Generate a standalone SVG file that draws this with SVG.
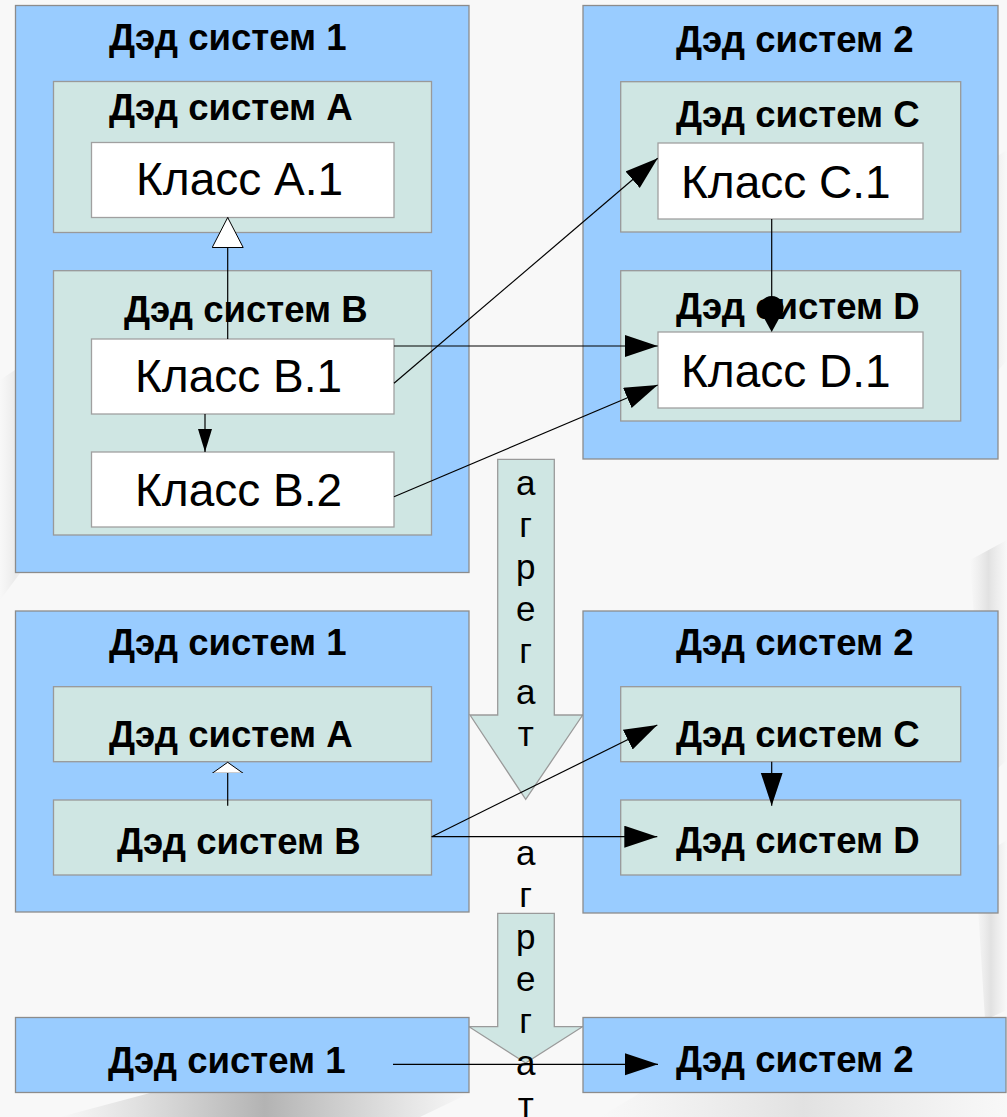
<svg xmlns="http://www.w3.org/2000/svg" width="1007" height="1117" viewBox="0 0 1007 1117">
  <style>
    .sys { fill: #99ccff; stroke: #8c8c8c; stroke-width: 1.3; }
    .sub { fill: #cfe6e3; stroke: #999999; stroke-width: 1.3; }
    .cls { fill: #ffffff; stroke: #a0a0a0; stroke-width: 1.3; }
    .big { fill: #cfe6e3; stroke: #9a9a9a; stroke-width: 1.3; }
    .title { font-family: "Liberation Sans", Arial, sans-serif; font-weight: bold; font-size: 36.6px; fill: #000; }
    .name { font-family: "Liberation Sans", Arial, sans-serif; font-size: 46px; fill: #000; }
    .vert { font-family: "Liberation Sans", Arial, sans-serif; font-size: 35px; fill: #000; text-anchor: middle; }
    .link { stroke: #000; stroke-width: 1.2; fill: none; }
  </style>
  <defs>
    <marker id="head" markerUnits="userSpaceOnUse" markerWidth="34" markerHeight="24" refX="33" refY="11" orient="auto">
      <path d="M0,0 L33,11 L0,22 Z" fill="#000"/>
    </marker>
    <marker id="headSmall" markerUnits="userSpaceOnUse" markerWidth="24" markerHeight="16" refX="23" refY="7" orient="auto">
      <path d="M0,0 L23,7 L0,14 Z" fill="#000"/>
    </marker>
    <marker id="hollow" markerUnits="userSpaceOnUse" markerWidth="33" markerHeight="33" refX="30" refY="15.5" orient="auto">
      <path d="M0,0 L30,15.5 L0,31 Z" fill="#fff" stroke="#000" stroke-width="1"/>
    </marker>
    <marker id="hollowFlat" markerUnits="userSpaceOnUse" markerWidth="14" markerHeight="33" refX="11" refY="15.5" orient="auto">
      <path d="M0,0 L11,15.5 L0,31 Z" fill="#fff" stroke="#000" stroke-width="1"/>
    </marker>
    <linearGradient id="streak" x1="0" y1="0" x2="1" y2="0">
      <stop offset="0" stop-color="#d8d8d8" stop-opacity="0"/>
      <stop offset="0.5" stop-color="#cfcfcf" stop-opacity="0.55"/>
      <stop offset="1" stop-color="#d8d8d8" stop-opacity="0"/>
    </linearGradient>
    <linearGradient id="streakDark" x1="0" y1="0" x2="1" y2="0">
      <stop offset="0" stop-color="#a8a8a8" stop-opacity="0"/>
      <stop offset="0.5" stop-color="#9c9c9c" stop-opacity="0.75"/>
      <stop offset="1" stop-color="#a8a8a8" stop-opacity="0"/>
    </linearGradient>
  </defs>

  <!-- brushed light background -->
  <g id="background">
    <rect width="1007" height="1117" fill="#f8f8f8"/>
    <polygon points="960,180 1007,150 1007,360 990,380" fill="url(#streak)"/>
    <polygon points="970,560 1007,540 1007,760 985,780" fill="url(#streak)"/>
    <polygon points="975,860 1007,840 1007,1010 985,1020" fill="url(#streak)"/>
    <polygon points="0,380 30,360 30,560 0,600" fill="url(#streak)" opacity="0.6"/>
    <polygon points="60,1117 150,1093 470,1093 420,1117" fill="url(#streakDark)"/>
    <polygon points="600,1117 640,1093 1007,1093 1007,1117" fill="url(#streak)"/>
  </g>

  <!-- aggregation arrows between the levels -->
  <g id="aggregate-1">
    <path class="big" d="M497.7,459.3 H554.3 V715 H582.7 L525.7,799.3 L470,715 H497.7 Z"/>
  </g>
  <g id="aggregate-2">
    <path class="big" d="M497.7,913.3 H554.3 V1026.7 H582.5 L525.7,1063 L469,1026.7 H497.7 Z"/>
  </g>

  <!-- level 1: classes -->
  <g id="sys1-top">
    <rect class="sys" x="15.5" y="5.5" width="453.5" height="567"/>
    <text class="title" x="109" y="50">Дэд систем 1</text>
  </g>
  <g id="subA-top">
    <rect class="sub" x="53.5" y="81.5" width="378" height="151"/>
    <text class="title" x="109" y="120">Дэд систем A</text>
  </g>
  <g id="classA1">
    <rect class="cls" x="91.5" y="142.5" width="302.5" height="75"/>
    <text class="name" x="136" y="195">Класс A.1</text>
  </g>
  <g id="subB-top">
    <rect class="sub" x="53.5" y="270.7" width="378" height="264.3"/>
    <text class="title" x="124" y="322">Дэд систем B</text>
  </g>
  <g id="classB1">
    <rect class="cls" x="91.5" y="339" width="302.5" height="75"/>
    <text class="name" x="135" y="392">Класс B.1</text>
  </g>
  <g id="classB2">
    <rect class="cls" x="91.5" y="452" width="302.5" height="75"/>
    <text class="name" x="135" y="506">Класс B.2</text>
  </g>

  <g id="sys2-top">
    <rect class="sys" x="583" y="5.5" width="415" height="453.5"/>
    <text class="title" x="676" y="52">Дэд систем 2</text>
  </g>
  <g id="subC-top">
    <rect class="sub" x="620.7" y="81.7" width="340" height="150.3"/>
    <text class="title" x="676" y="127">Дэд систем C</text>
  </g>
  <g id="classC1">
    <rect class="cls" x="658" y="143" width="265" height="76"/>
    <text class="name" x="681" y="198">Класс C.1</text>
  </g>
  <g id="subD-top">
    <rect class="sub" x="620.7" y="270.7" width="340" height="150.3"/>
    <text class="title" x="676" y="319">Дэд систем D</text>
  </g>
  <g id="classD1">
    <rect class="cls" x="658" y="332" width="265" height="76"/>
    <text class="name" x="681" y="387">Класс D.1</text>
  </g>

  <!-- level 2: subsystems -->
  <g id="sys1-mid">
    <rect class="sys" x="15.5" y="611" width="453.5" height="301"/>
    <text class="title" x="109" y="655">Дэд систем 1</text>
  </g>
  <g id="subA-mid">
    <rect class="sub" x="53.5" y="686.7" width="378" height="75"/>
    <text class="title" x="109" y="747">Дэд систем A</text>
  </g>
  <g id="subB-mid">
    <rect class="sub" x="53.5" y="800" width="378" height="75"/>
    <text class="title" x="117" y="854">Дэд систем B</text>
  </g>
  <g id="sys2-mid">
    <rect class="sys" x="583" y="611" width="415" height="302"/>
    <text class="title" x="676" y="655">Дэд систем 2</text>
  </g>
  <g id="subC-mid">
    <rect class="sub" x="620.7" y="686.7" width="340" height="75"/>
    <text class="title" x="676" y="747">Дэд систем C</text>
  </g>
  <g id="subD-mid">
    <rect class="sub" x="620.7" y="800" width="340" height="75"/>
    <text class="title" x="676" y="853">Дэд систем D</text>
  </g>

  <!-- level 3: systems -->
  <g id="sys1-bottom">
    <rect class="sys" x="15.5" y="1017.5" width="453.5" height="75"/>
    <text class="title" x="108" y="1073">Дэд систем 1</text>
  </g>
  <g id="sys2-bottom">
    <rect class="sys" x="583" y="1017.5" width="423" height="75"/>
    <text class="title" x="676" y="1072">Дэд систем 2</text>
  </g>

  <!-- vertical labels of the aggregation arrows -->
  <g id="aggregate-labels">
    <text class="vert" x="525.7" y="495">а</text>
    <text class="vert" x="525.7" y="537">г</text>
    <text class="vert" x="525.7" y="579">р</text>
    <text class="vert" x="525.7" y="621">е</text>
    <text class="vert" x="525.7" y="663">г</text>
    <text class="vert" x="525.7" y="704">а</text>
    <text class="vert" x="525.7" y="746">т</text>
    <text class="vert" x="525.7" y="865">а</text>
    <text class="vert" x="525.7" y="907">г</text>
    <text class="vert" x="525.7" y="949">р</text>
    <text class="vert" x="525.7" y="991">е</text>
    <text class="vert" x="525.7" y="1033">г</text>
    <text class="vert" x="525.7" y="1075">а</text>
    <text class="vert" x="525.7" y="1117">т</text>
  </g>

  <!-- dependencies and generalizations -->
  <g id="connectors">
    <line class="link" x1="227.7" y1="339" x2="227.7" y2="217.5" marker-end="url(#hollow)"/>
    <line class="link" x1="205" y1="414" x2="205" y2="452" marker-end="url(#headSmall)"/>
    <line class="link" x1="394" y1="383.3" x2="657.7" y2="158.3" marker-end="url(#head)"/>
    <line class="link" x1="394" y1="346" x2="657.7" y2="346" marker-end="url(#head)"/>
    <line class="link" x1="394" y1="496.7" x2="657.7" y2="385" marker-end="url(#head)"/>
    <line class="link" x1="771.7" y1="219" x2="771.7" y2="320"/>
    <path d="M771.7,332 L760.5,311.5 A11.8,11.8 0 1 1 782.9,311.5 Z" fill="#000"/>

    <line class="link" x1="227.7" y1="805.7" x2="227.7" y2="762.3" marker-end="url(#hollowFlat)"/>
    <line class="link" x1="431.7" y1="836.7" x2="657.3" y2="725" marker-end="url(#head)"/>
    <line class="link" x1="431.7" y1="836.7" x2="657.3" y2="836.7" marker-end="url(#head)"/>
    <line class="link" x1="771.7" y1="761.7" x2="771.7" y2="805.7" marker-end="url(#head)"/>

    <line class="link" x1="393" y1="1064.3" x2="658" y2="1064.3" marker-end="url(#head)"/>
  </g>
</svg>
